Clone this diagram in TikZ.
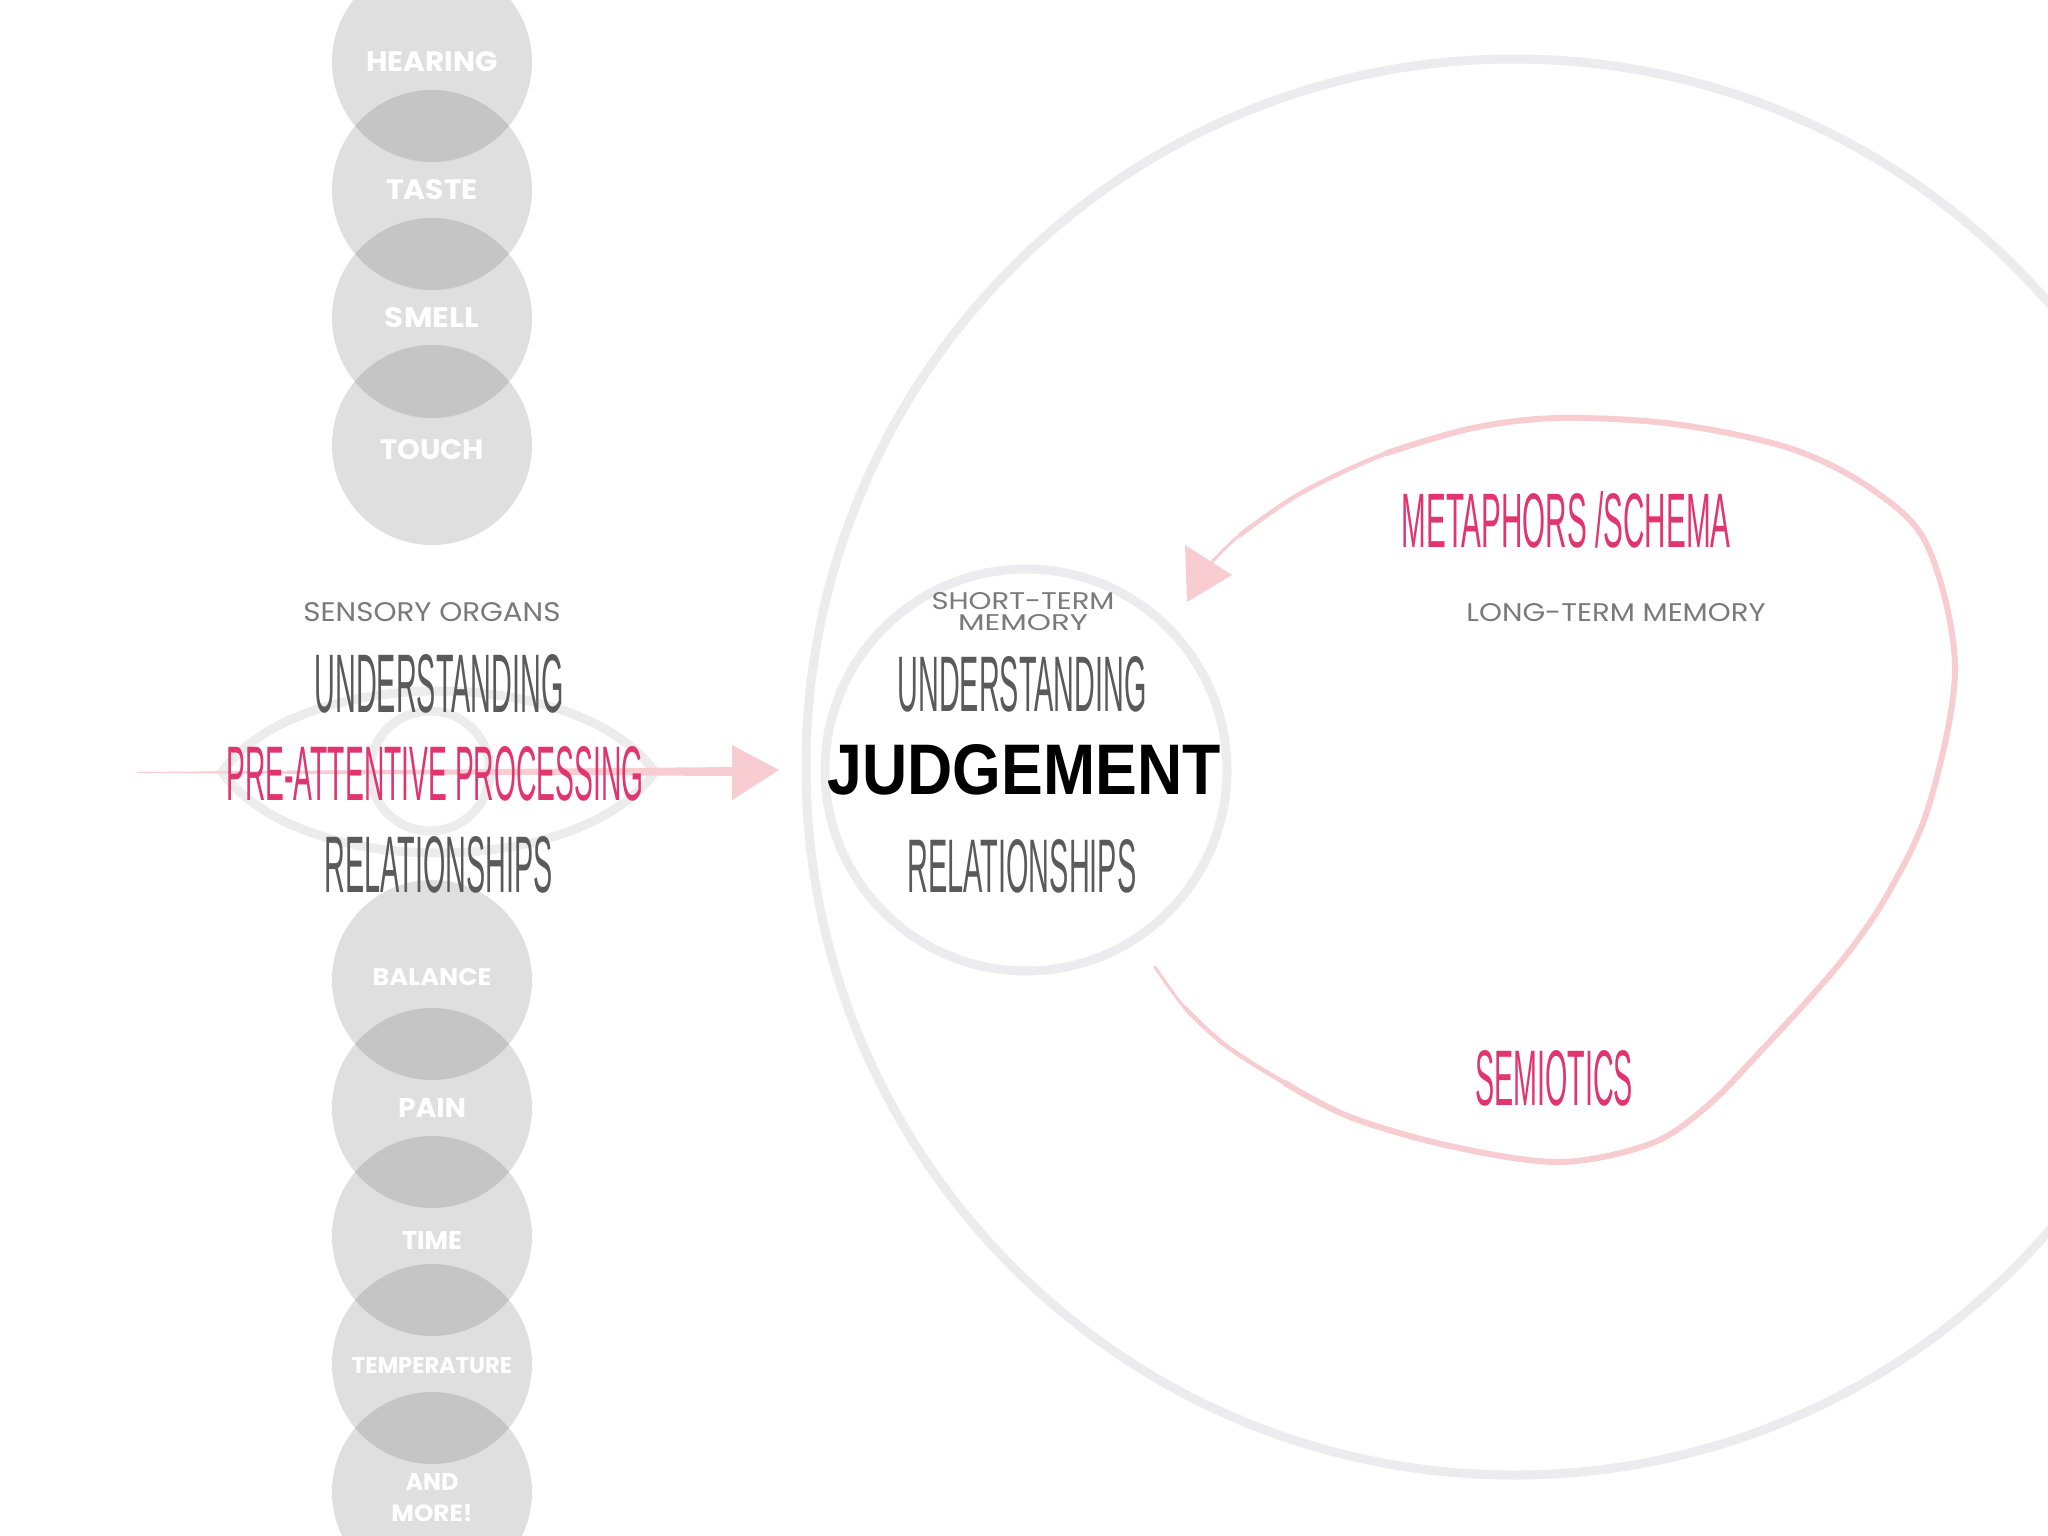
\documentclass[tikz,border=0pt]{standalone}
\usepackage{fontspec}
\setmainfont{Liberation Sans}
\newfontfamily\condfont{Liberation Sans}
\newfontfamily\geofont{Poppins}
\definecolor{orggray}{HTML}{DFDFDF}
\definecolor{lensgray}{HTML}{C5C5C5}
\definecolor{ringgray}{HTML}{ECECEE}
\definecolor{eyegray}{HTML}{ECECEC}
\definecolor{darktext}{HTML}{5A5A5A}
\definecolor{smalltext}{HTML}{7A7A7A}
\definecolor{hotpink}{HTML}{E2356F}
\definecolor{brushpink}{HTML}{F8CDD2}
\newcommand\fitto[3]{\resizebox{#1pt}{#2pt}{#3}}
\begin{document}
\begin{tikzpicture}[x=1pt,y=-1pt,
  every node/.style={inner sep=0pt,outer sep=0pt},
  organ/.style={circle,minimum size=200pt,fill=orggray},
  lens/.style={fill=lensgray},
  orglabel/.style={text=white,font=\geofont\bfseries},
  smalllabel/.style={text=smalltext,font=\geofont},
  condlabel/.style={text=darktext,font=\condfont},
  pinklabel/.style={text=hotpink,font=\condfont},
  ring/.style={circle,draw=ringgray,line width=9pt},
  eyeline/.style={draw=eyegray,line width=9pt},
  brush/.style={draw=brushpink,line cap=round,line join=round}]
\fill[white] (0,0) rectangle (2048,1536);
\useasboundingbox (0,0) rectangle (2048,1536);
\clip (0,0) rectangle (2048,1536);

% memory rings
\node[ring,minimum size=1416pt] (ltm) at (1514,767) {};
\node[ring,minimum size=402pt] (stm) at (1026,770) {};

% eye
\draw[eyeline] (222,772) .. controls (300,664) and (577,664) .. (655,772)
  .. controls (577,880) and (300,880) .. (222,772) -- cycle;
\draw[eyeline] (430,771) circle (60pt);

% straight arrow into short-term memory
\coordinate (arrowstart) at (137,772);
\coordinate (arrowtip) at (779,770);
\fill[brushpink] (arrowstart) -- (735,767) -- (735,776) -- (137,773) -- cycle;
\fill[brushpink] (732,745) -- (arrowtip) -- (732,800) -- cycle;

% sensory organs, top
\node[organ] (hearing) at (432,62) {};
\node[organ] (taste) at (432,190) {};
\node[organ] (smell) at (432,318) {};
\node[organ] (touch) at (432,445) {};
\begin{scope}\clip (hearing.center) circle (100pt); \fill[lens] (taste.center) circle (100pt);\end{scope}
\begin{scope}\clip (taste.center) circle (100pt); \fill[lens] (smell.center) circle (100pt);\end{scope}
\begin{scope}\clip (smell.center) circle (100pt); \fill[lens] (touch.center) circle (100pt);\end{scope}

% sensory organs, bottom
\node[organ] (balance) at (432,980) {};
\node[organ] (pain) at (432,1108) {};
\node[organ] (time) at (432,1236) {};
\node[organ] (temperature) at (432,1364) {};
\node[organ] (more) at (432,1492) {};
\begin{scope}\clip (balance.center) circle (100pt); \fill[lens] (pain.center) circle (100pt);\end{scope}
\begin{scope}\clip (pain.center) circle (100pt); \fill[lens] (time.center) circle (100pt);\end{scope}
\begin{scope}\clip (time.center) circle (100pt); \fill[lens] (temperature.center) circle (100pt);\end{scope}
\begin{scope}\clip (temperature.center) circle (100pt); \fill[lens] (more.center) circle (100pt);\end{scope}

% organ labels
\node[orglabel] (lhearing) at (432,62) {\fitto{131}{20}{HEARING}};
\node[orglabel] (ltaste) at (432,190) {\fitto{92}{20}{TASTE}};
\node[orglabel] (lsmell) at (432,318) {\fitto{94}{20}{SMELL}};
\node[orglabel] (ltouch) at (432,450) {\fitto{104}{20}{TOUCH}};
\node[orglabel] (lbalance) at (432,977) {\fitto{119}{17}{BALANCE}};
\node[orglabel] (lpain) at (432,1108) {\fitto{68}{19}{PAIN}};
\node[orglabel] (ltime) at (432,1240) {\fitto{60}{18}{TIME}};
\node[orglabel] (ltemp) at (432,1366) {\fitto{160}{16}{TEMPERATURE}};
\node[orglabel,align=center,font=\geofont\bfseries\fontsize{10}{31}\selectfont] (lmore) at (432,1498)
  {\fitto{53}{17}{AND}\\\fitto{81}{17}{MORE!}};

% left texts
\node[smalllabel] (sensory) at (432,612) {\fitto{257}{19}{SENSORY ORGANS}};
\node[condlabel] (und1) at (439,684) {\fitto{249}{58}{UNDERSTANDING}};
\node[pinklabel] (pre) at (435,774) {\fitto{417}{54}{PRE-ATTENTIVE PROCESSING}};
\node[condlabel] (rel1) at (439,865) {\fitto{228}{56}{RELATIONSHIPS}};

% short-term memory texts
\node[smalllabel,align=center,font=\geofont\fontsize{10}{21}\selectfont] (stmlabel) at (1023,612)
  {\fitto{183}{17}{SHORT-TERM}\\\fitto{130}{16}{MEMORY}};
\node[condlabel] (und2) at (1022,684) {\fitto{249}{55}{UNDERSTANDING}};
\node[text=black,font=\condfont\bfseries] (judge) at (1024,770) {\fitto{393}{50}{JUDGEMENT}};
\node[condlabel] (rel2) at (1022,866) {\fitto{229}{53}{RELATIONSHIPS}};

% long-term memory texts
\node[pinklabel] (meta) at (1566,520) {\fitto{329}{56}{METAPHORS /SCHEMA}};
\node[smalllabel] (ltmlabel) at (1616,613) {\fitto{299}{18}{LONG-TERM MEMORY}};
\node[pinklabel] (semio) at (1554,1078) {\fitto{158}{55}{SEMIOTICS}};

% curved feedback arrow
\coordinate (cstart) at (1155,967);
\coordinate (c1) at (1185,1008);
\coordinate (c2) at (1225,1045);
\coordinate (c2b) at (1285,1083);
\coordinate (c3) at (1350,1117);
\coordinate (c4) at (1450,1146);
\coordinate (c5) at (1559,1162);
\coordinate (c6) at (1650,1144);
\coordinate (c6b) at (1705,1108);
\coordinate (c7) at (1760,1052);
\coordinate (c8) at (1840,963);
\coordinate (c8b) at (1890,890);
\coordinate (c9) at (1930,802);
\coordinate (c10) at (1955,667);
\coordinate (c11) at (1927,545);
\coordinate (c12) at (1870,488);
\coordinate (c13) at (1789,448);
\coordinate (c14) at (1674,424);
\coordinate (c15) at (1559,418);
\coordinate (c16) at (1473,428);
\coordinate (c17) at (1387,453);
\coordinate (c18) at (1301,493);
\coordinate (c19) at (1240,535);
\coordinate (cend) at (1212,562);
\draw[brush,line width=3pt] plot[smooth,tension=0.55] coordinates {
  (cstart) (c1) (c2) (c2b) (c3) (c4) (c5) (c6) (c6b) (c7) (c8) (c8b) (c9) (c10) (c11) (c12)
  (c13) (c14) (c15) (c16) (c17) (c18) (c19) (cend)};
\draw[brush,line width=4.5pt] plot[smooth,tension=0.55] coordinates {
  (c1) (c2) (c2b) (c3) (c4) (c5) (c6) (c6b) (c7) (c8) (c8b) (c9) (c10) (c11) (c12)
  (c13) (c14) (c15) (c16) (c17) (c18) (c19)};
\draw[brush,line width=6pt] plot[smooth,tension=0.55] coordinates {
  (c2b) (c3) (c4) (c5) (c6) (c6b) (c7) (c8) (c8b) (c9) (c10) (c11) (c12)
  (c13) (c14) (c15) (c16) (c17)};
\fill[brushpink] (1185,545) -- (1232,575) -- (1187,602) -- cycle;
\end{tikzpicture}
\end{document}
